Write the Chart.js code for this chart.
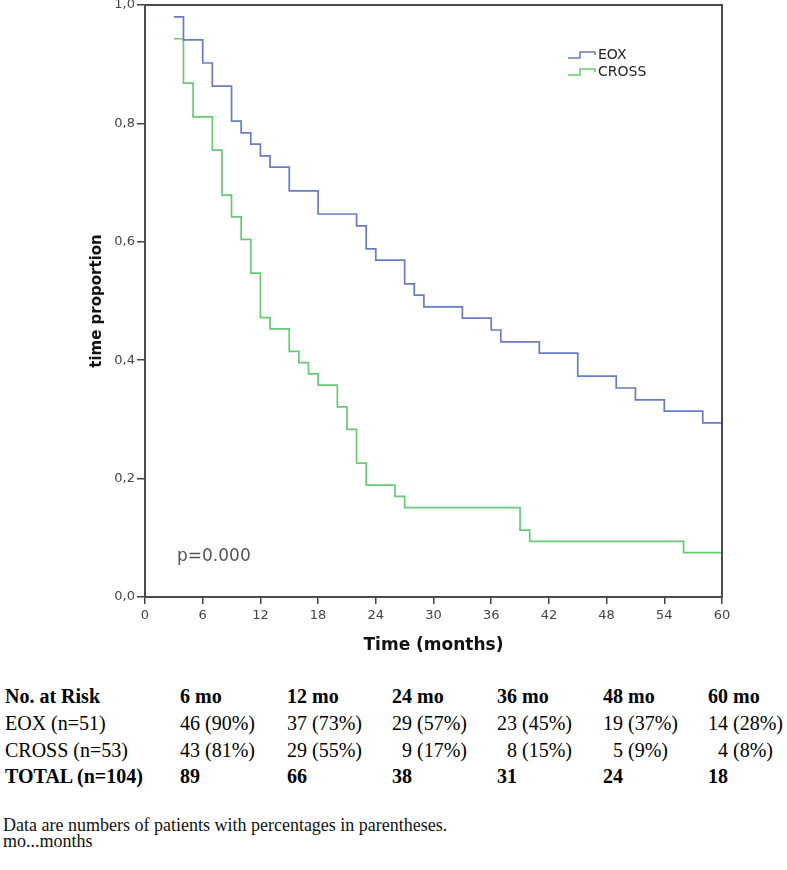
<!DOCTYPE html>
<html>
<head>
<meta charset="utf-8">
<script src="https://cdn.jsdelivr.net/npm/chart.js@4.4.1/dist/chart.umd.min.js"></script>
<style>
  body { margin: 0; background: #fff; }
  #wrap { position: relative; width: 787px; height: 870px; overflow: hidden; }
  #km { position: absolute; left: 0; top: 0; }
  .row { position: absolute; left: 0; width: 787px; height: 27px; font: 20px "Liberation Serif", "Times New Roman", serif; color: #000; }
  .row span.c { position: absolute; top: 0; white-space: pre; }
  .row.b { font-weight: bold; }
  .n { display: inline-block; width: 20px; text-align: right; }
  #note { position: absolute; left: 3px; top: 817px; font: 18px "Liberation Serif", "Times New Roman", serif; line-height: 16px; color: #111; }
</style>
</head>
<body>
<div id="wrap">
  <canvas id="km" width="787" height="660"></canvas>
  <div id="risk"></div>
  <div id="note">Data are numbers of patients with percentages in parentheses.<br>mo...months</div>
</div>
<script>
// Kaplan-Meier steps (time in months, proportion after the drop)
const eoxTime = [3, 4, 6, 7, 9, 10, 11, 12, 13, 15, 18, 22, 23, 24, 27, 28, 29, 33, 36, 37, 41, 45, 49, 51, 54, 58, 60];
const eoxSurv = [0.980, 0.941, 0.902, 0.863, 0.804, 0.784, 0.765, 0.745, 0.726, 0.686, 0.647, 0.627, 0.588, 0.569, 0.529, 0.510, 0.490, 0.471, 0.451, 0.431, 0.412, 0.373, 0.353, 0.333, 0.314, 0.294, 0.294];
const crossTime = [3, 4, 5, 7, 8, 9, 10, 11, 12, 13, 15, 16, 17, 18, 20, 21, 22, 23, 26, 27, 39, 40, 56, 60];
const crossSurv = [0.943, 0.868, 0.811, 0.755, 0.679, 0.642, 0.604, 0.547, 0.472, 0.453, 0.415, 0.396, 0.377, 0.358, 0.321, 0.283, 0.226, 0.189, 0.170, 0.151, 0.113, 0.094, 0.075, 0.075];
const pValue = 'p=0.000';

// number at risk table
const riskHeads = ['6 mo', '12 mo', '24 mo', '36 mo', '48 mo', '60 mo'];
const eoxRisk = [46, 37, 29, 23, 19, 14];
const eoxPct = [90, 73, 57, 45, 37, 28];
const crossRisk = [43, 29, 9, 8, 5, 4];
const crossPct = [81, 55, 17, 15, 9, 8];
const totalRisk = [89, 66, 38, 31, 24, 18];

const pts = (t, s) => t.map((x, i) => ({ x: x, y: s[i] }));

const extras = {
    id: 'extras',
    afterDatasetsDraw(chart) {
        const { ctx, chartArea: a } = chart;
        ctx.save();
        ctx.strokeStyle = '#4a4a4a';
        ctx.lineWidth = 2;
        ctx.strokeRect(a.left, a.top, a.right - a.left, a.bottom - a.top);
        // legend with little step icons
        chart.data.datasets.forEach((ds, i) => {
            const x = a.right - 154, y = a.top + 50 + i * 17;
            ctx.strokeStyle = ds.borderColor;
            ctx.lineWidth = 1.5;
            ctx.beginPath();
            ctx.moveTo(x, y + 3); ctx.lineTo(x + 12, y + 3); ctx.lineTo(x + 12, y - 3);
            ctx.lineTo(x + 27, y - 3); ctx.lineTo(x + 27, y);
            ctx.stroke();
            ctx.fillStyle = '#222';
            ctx.font = '14px "DejaVu Sans"';
            ctx.textBaseline = 'middle';
            ctx.fillText(ds.label, x + 30, y);
        });
        ctx.fillStyle = '#555';
        ctx.font = '17px "DejaVu Sans"';
        ctx.textBaseline = 'middle';
        ctx.fillText(pValue, a.left + 32, a.bottom - 40);
        ctx.restore();
    }
};

Chart.defaults.font.family = '"DejaVu Sans", sans-serif';
Chart.defaults.color = '#444';

new Chart(document.getElementById('km'), {
    type: 'line',
    data: {
        datasets: [
            { label: 'EOX', data: pts(eoxTime, eoxSurv), borderColor: '#6a7bc6', borderWidth: 1.7, stepped: true, pointRadius: 0 },
            { label: 'CROSS', data: pts(crossTime, crossSurv), borderColor: '#68c977', borderWidth: 1.7, stepped: true, pointRadius: 0 }
        ]
    },
    options: {
        responsive: false,
        animation: false,
        layout: { padding: { left: 0, right: 65, top: 5, bottom: 0 } },
        plugins: { legend: { display: false }, tooltip: { enabled: false } },
        scales: {
            x: {
                type: 'linear', min: 0, max: 60,
                ticks: { stepSize: 6, padding: 4, font: { size: 13 }, color: '#444', maxRotation: 0 },
                grid: { drawOnChartArea: false, tickLength: 7, color: '#444', lineWidth: 1.5 },
                border: { color: '#444', width: 2 },
                title: { display: true, text: 'Time (months)', color: '#111', font: { size: 17, weight: 'bold' }, padding: { top: 0, bottom: 4 } },
                afterFit: s => { s.height = 63; s.paddingLeft = 0; s.paddingRight = 0; }
            },
            y: {
                min: 0, max: 1,
                ticks: { stepSize: 0.2, padding: 2, font: { size: 13 }, color: '#444', callback: v => v.toFixed(1).replace('.', ',') },
                grid: { drawOnChartArea: false, tickLength: 8, color: '#444', lineWidth: 1.5 },
                border: { color: '#444', width: 2 },
                title: { display: true, text: 'time proportion', color: '#111', font: { size: 15, weight: 'bold' }, padding: { top: 88, bottom: 0 } },
                afterFit: s => { s.width = 145; s.paddingTop = 0; s.paddingBottom = 0; }
            }
        }
    },
    plugins: [extras]
});

// table under the chart
const cols = [5, 180, 287, 392, 497, 603, 708];
const risk = document.getElementById('risk');
function addRow(top, cells, bold) {
    const r = document.createElement('div');
    r.className = 'row' + (bold ? ' b' : '');
    r.style.top = top + 'px';
    cells.forEach((html, i) => {
        const c = document.createElement('span');
        c.className = 'c';
        c.style.left = cols[i] + 'px';
        c.innerHTML = html;
        r.appendChild(c);
    });
    risk.appendChild(r);
}
const cell = (n, p) => '<span class="n">' + n + '</span> (' + p + '%)';
addRow(685, ['No. at Risk'].concat(riskHeads), true);
addRow(712, ['EOX (n=51)'].concat(eoxRisk.map((n, i) => cell(n, eoxPct[i]))), false);
addRow(739, ['CROSS (n=53)'].concat(crossRisk.map((n, i) => cell(n, crossPct[i]))), false);
addRow(765, ['TOTAL (n=104)'].concat(totalRisk.map(String)), true);
</script>
</body>
</html>
